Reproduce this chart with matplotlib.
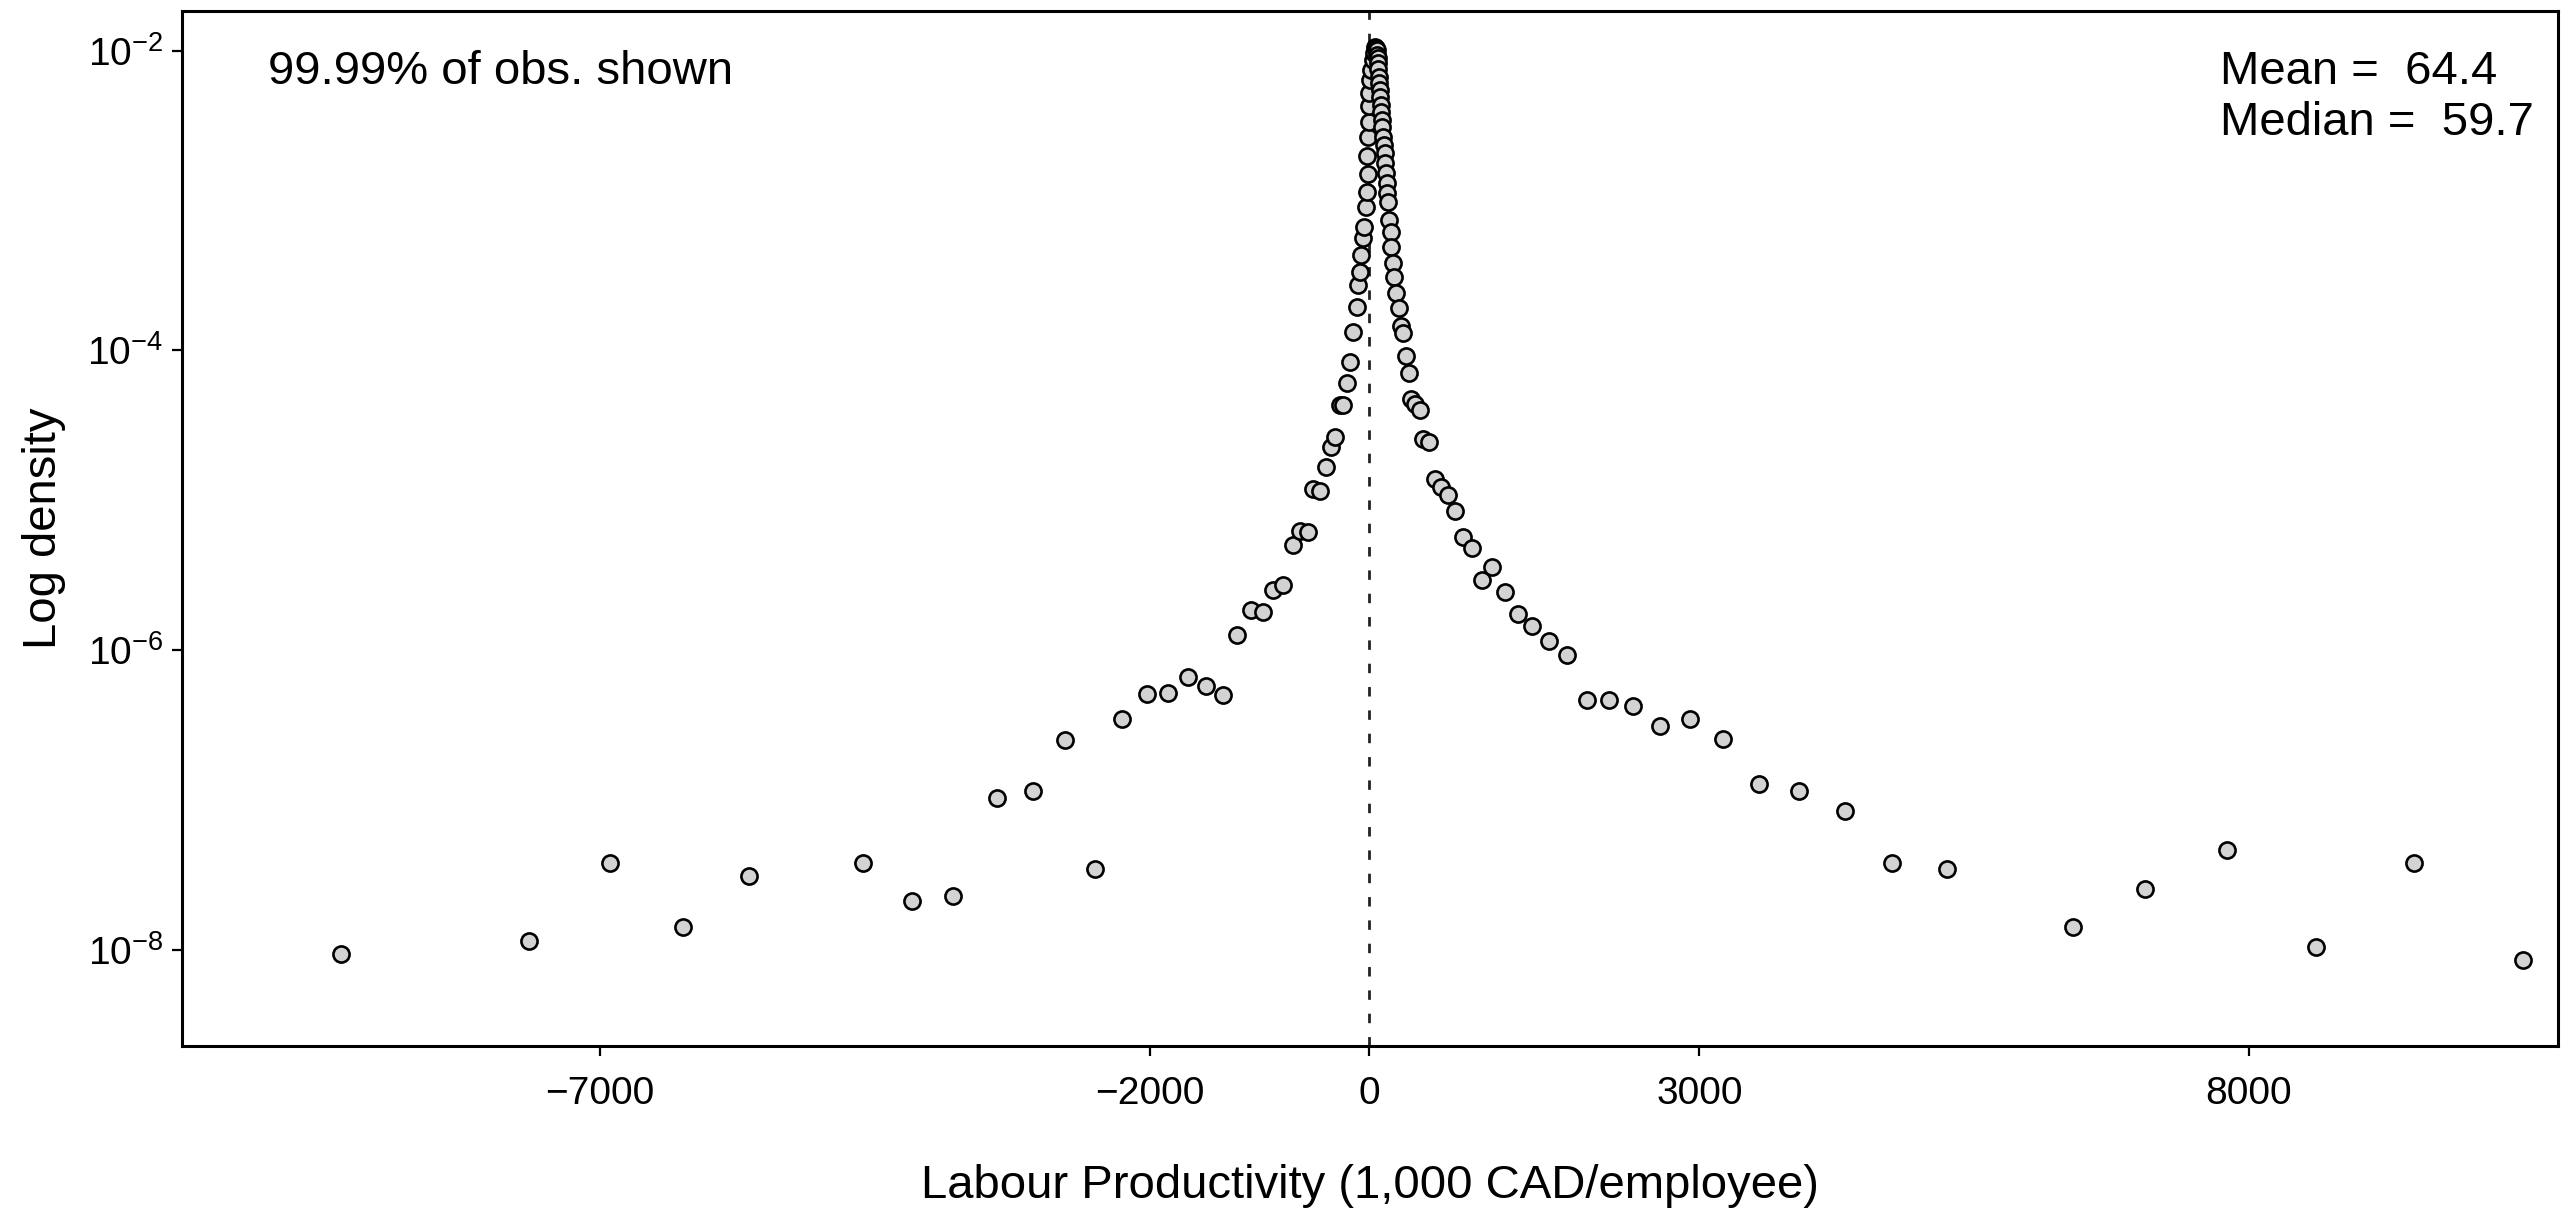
"""
Log density of labour productivity, scatter of binned densities.
"""
import math
import matplotlib
matplotlib.use("Agg")
import matplotlib.pyplot as plt
from matplotlib.ticker import FixedLocator, NullLocator, FuncFormatter

# bin centres (1,000 CAD/employee) and densities
left_x = [-9355, -7644, -6909, -6245, -5643, -4610, -4162, -3788, -3391, -3064,
          -2767, -2497, -2252, -2027, -1834, -1655, -1488, -1336, -1204, -1082,
          -968, -876, -785, -700, -634, -559, -513, -449, -397, -352,
          -311, -270, -240, -209, -179, -149, -118, -104, -88, -73,
          -58, -47, -36, -27, -18, -13, -10, -5, -5, -2, 3]
left_d = [9.5e-9, 1.16e-8, 3.85e-8, 1.43e-8, 3.14e-8, 3.84e-8, 2.12e-8, 2.32e-8, 1.04e-7, 1.15e-7,
          2.51e-7, 3.49e-8, 3.47e-7, 5.12e-7, 5.17e-7, 6.68e-7, 5.75e-7, 5.07e-7, 1.26e-6, 1.86e-6,
          1.79e-6, 2.54e-6, 2.72e-6, 5.07e-6, 6.22e-6, 6.18e-6, 1.20e-5, 1.15e-5, 1.66e-5, 2.27e-5,
          2.65e-5, 4.30e-5, 4.36e-5, 6.10e-5, 8.41e-5, 1.33e-4, 1.96e-4, 2.73e-4, 3.35e-4, 4.33e-4,
          5.59e-4, 6.61e-4, 9.08e-4, 1.14e-3, 1.98e-3, 1.50e-3, 2.66e-3, 3.35e-3, 4.26e-3, 5.25e-3, 6.36e-3]

right_x = [15, 30, 42, 48, 55, 64, 69, 73, 78, 78, 85, 87, 94, 100, 103, 109, 115, 118, 124, 130,
           139, 145, 148, 155, 160, 169, 180, 194, 200, 212, 224, 242, 264, 283, 305, 336, 357,
           382, 412, 457, 487, 539, 594, 648, 710, 775, 851, 930, 1021, 1118, 1230, 1350, 1482,
           1632, 1797, 1977, 2174, 2397, 2643, 2915, 3215, 3543, 3903, 4321, 4756, 5251,
           6395, 7057, 7795, 8607, 9500, 10495]
right_d = [7.4e-3, 8.6e-3, 9.6e-3, 1.05e-2, 1.04e-2, 1.007e-2, 9.33e-3, 8.87e-3, 8.22e-3, 7.59e-3,
           6.68e-3, 6.04e-3, 5.45e-3, 4.92e-3, 4.33e-3, 3.91e-3, 3.44e-3, 3.10e-3, 2.66e-3, 2.34e-3,
           2.06e-3, 1.77e-3, 1.52e-3, 1.30e-3, 1.12e-3, 9.81e-4, 7.41e-4, 6.19e-4, 4.92e-4, 3.81e-4,
           3.10e-4, 2.40e-4, 1.91e-4, 1.46e-4, 1.30e-4, 9.18e-5, 7.07e-5,
           4.72e-5, 4.39e-5, 4.04e-5, 2.55e-5, 2.45e-5, 1.40e-5, 1.23e-5, 1.09e-5, 8.53e-6, 5.70e-6,
           4.79e-6, 2.94e-6, 3.60e-6, 2.47e-6, 1.75e-6, 1.45e-6, 1.15e-6, 9.33e-7, 4.70e-7, 4.70e-7,
           4.24e-7, 3.15e-7, 3.47e-7, 2.56e-7, 1.29e-7, 1.16e-7, 8.43e-8, 3.84e-8, 3.46e-8,
           1.43e-8, 2.57e-8, 4.66e-8, 1.05e-8, 3.84e-8, 8.61e-9]

x_ticks = [-7000, -2000, 0, 3000, 8000]
y_ticks = [1e-2, 1e-4, 1e-6, 1e-8]
mean_val = 64.4
median_val = 59.7
share_shown = "99.99%"

plt.rcParams['font.family'] = ['Liberation Sans', 'DejaVu Sans']
plt.rcParams['mathtext.fontset'] = 'custom'
plt.rcParams['mathtext.rm'] = 'Liberation Sans'
plt.rcParams['mathtext.it'] = 'Liberation Sans:italic'
plt.rcParams['mathtext.default'] = 'regular'

fig = plt.figure(figsize=(25.75, 12.17), dpi=100)
ax = fig.add_axes([0.0707, 0.1405, 0.9227, 0.8505])

ax.scatter(left_x + right_x, left_d + right_d, s=135, c='#d3d3d3',
           edgecolors='black', linewidths=1.9, zorder=3)
ax.axvline(0, color='#222222', lw=2.0, ls=(0, (3.4, 5.0)), zorder=2)

ax.set_yscale('log')
ax.set_xlim(-10800, 10810)
ax.set_ylim(10 ** -8.638, 10 ** -1.736)

ax.xaxis.set_major_locator(FixedLocator(x_ticks))
ax.yaxis.set_major_locator(FixedLocator(y_ticks))
ax.yaxis.set_minor_locator(NullLocator())
ax.yaxis.set_major_formatter(FuncFormatter(lambda v, p: r'$10^{%d}$' % round(math.log10(v))))
ax.xaxis.set_major_formatter(FuncFormatter(lambda v, p: ('\u2212%d' % -v) if v < 0 else '%d' % v))

ax.tick_params(direction='out', length=7.5, width=1.6, labelsize=28)
ax.tick_params(axis='x', pad=14)
ax.tick_params(axis='y', pad=6)
for s in ax.spines.values():
    s.set_linewidth(2.2)

ax.set_xlabel('Labour Productivity (1,000 CAD/employee)', fontsize=34)
ax.xaxis.label.set_va('center')
ax.xaxis.set_label_coords(0.5, -0.1353)
ax.set_ylabel('Log density', fontsize=34)
ax.yaxis.label.set_va('center')
ax.yaxis.set_label_coords(-0.0581, 0.5)

ax.text(0.0362, 0.941, share_shown + ' of obs. shown', transform=ax.transAxes,
        fontsize=34, va='center', ha='left')
ax.text(0.8577, 0.941, 'Mean =  %.1f' % mean_val, transform=ax.transAxes,
        fontsize=34, va='center', ha='left')
ax.text(0.8577, 0.8918, 'Median =  %.1f' % median_val, transform=ax.transAxes,
        fontsize=34, va='center', ha='left')

fig.savefig('out.png', dpi=100)
